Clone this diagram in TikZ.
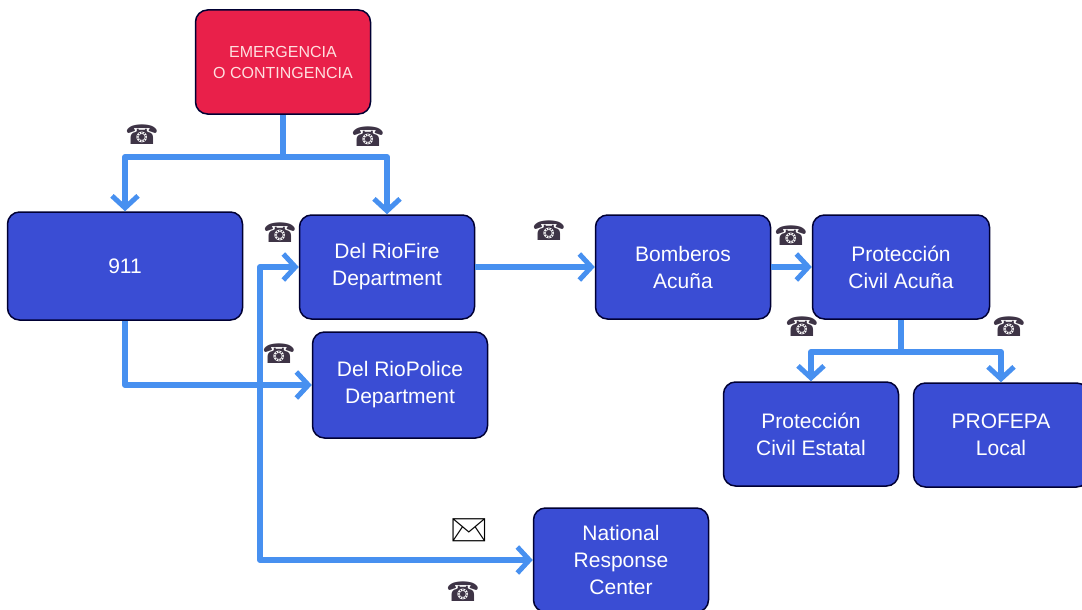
\documentclass[tikz,border=0pt]{standalone}
\usepackage{fontspec}
\setmainfont{Liberation Sans}
\newfontfamily\symfont{DejaVu Sans}
\newfontfamily\mailfont{Noto Emoji}
\usetikzlibrary{arrows.meta}
\definecolor{boxblue}{HTML}{3A4DD4}
\definecolor{alertred}{HTML}{E9204A}
\definecolor{linkblue}{HTML}{4790F0}
\definecolor{icongray}{HTML}{3E3446}
\tikzstyle{Box}=[rectangle, rounded corners=12pt, draw=black!80!blue, line width=1.5pt, fill=boxblue, text=white, align=center, font=\fontsize{21}{27}\selectfont, minimum width=175pt, minimum height=104pt]
\tikzstyle{Link}=[draw=linkblue, line width=6pt, line join=round, -{Straight Barb[length=12pt,width=26pt,line width=5pt]}]
\tikzstyle{Phone}=[text=icongray, font=\symfont\fontsize{27}{27}\selectfont, inner sep=0pt]

\begin{document}
\begin{tikzpicture}[x=1pt, y=-1pt]
    \useasboundingbox (0,0) rectangle (1082,610);
    \path
    (283,62) node[Box, fill=alertred, text=red!12, font=\fontsize{16}{21}\selectfont] (emerg) {EMERGENCIA\\O CONTINGENCIA}
    (125,266) node[Box, minimum width=235pt, minimum height=108pt] (n911) {911}
    (387,267) node[Box] (fire) {Del RioFire\\Department}
    (400,385) node[Box, minimum height=106pt] (police) {Del RioPolice\\Department}
    (683,267) node[Box] (bomberos) {Bomberos\\Acuña}
    (901,267) node[Box, minimum width=177pt] (pcacuna) {Protección\\Civil Acuña}
    (811,434) node[Box] (pcestatal) {Protección\\Civil Estatal}
    (1001,435) node[Box] (profepa) {PROFEPA\\Local}
    (621,560) node[Box] (nrc) {National\\Response\\Center};
    \path
    (142,135) node[Phone] (ph1) {☎}
    (368,137) node[Phone] (ph2) {☎}
    (280,233) node[Phone] (ph3) {☎}
    (279,354) node[Phone] (ph4) {☎}
    (549,231) node[Phone] (ph5) {☎}
    (791,236) node[Phone] (ph6) {☎}
    (802,327) node[Phone] (ph7) {☎}
    (1009,327) node[Phone] (ph8) {☎}
    (463,592) node[Phone] (ph9) {☎}
    (469,530) node[Phone, text=black, font=\mailfont\fontsize{30}{30}\selectfont] (mail) {✉};

    \coordinate (fork) at (283,157);
    \coordinate (split) at (260,385);
    \coordinate (pcfork) at (901,352);
    \draw[Link] (emerg) -- (fork) -| (n911);
    \draw[Link] (fork) -| (fire);
    \draw[Link] (n911) |- (police);
    \draw[Link] (split) |- (fire);
    \draw[Link] (split) |- (nrc);
    \draw[Link] (fire) -- (bomberos);
    \draw[Link] (bomberos) -- (pcacuna);
    \draw[Link] (pcacuna) -- (pcfork) -| (pcestatal);
    \draw[Link] (pcfork) -| (profepa);
\end{tikzpicture}
\end{document}
